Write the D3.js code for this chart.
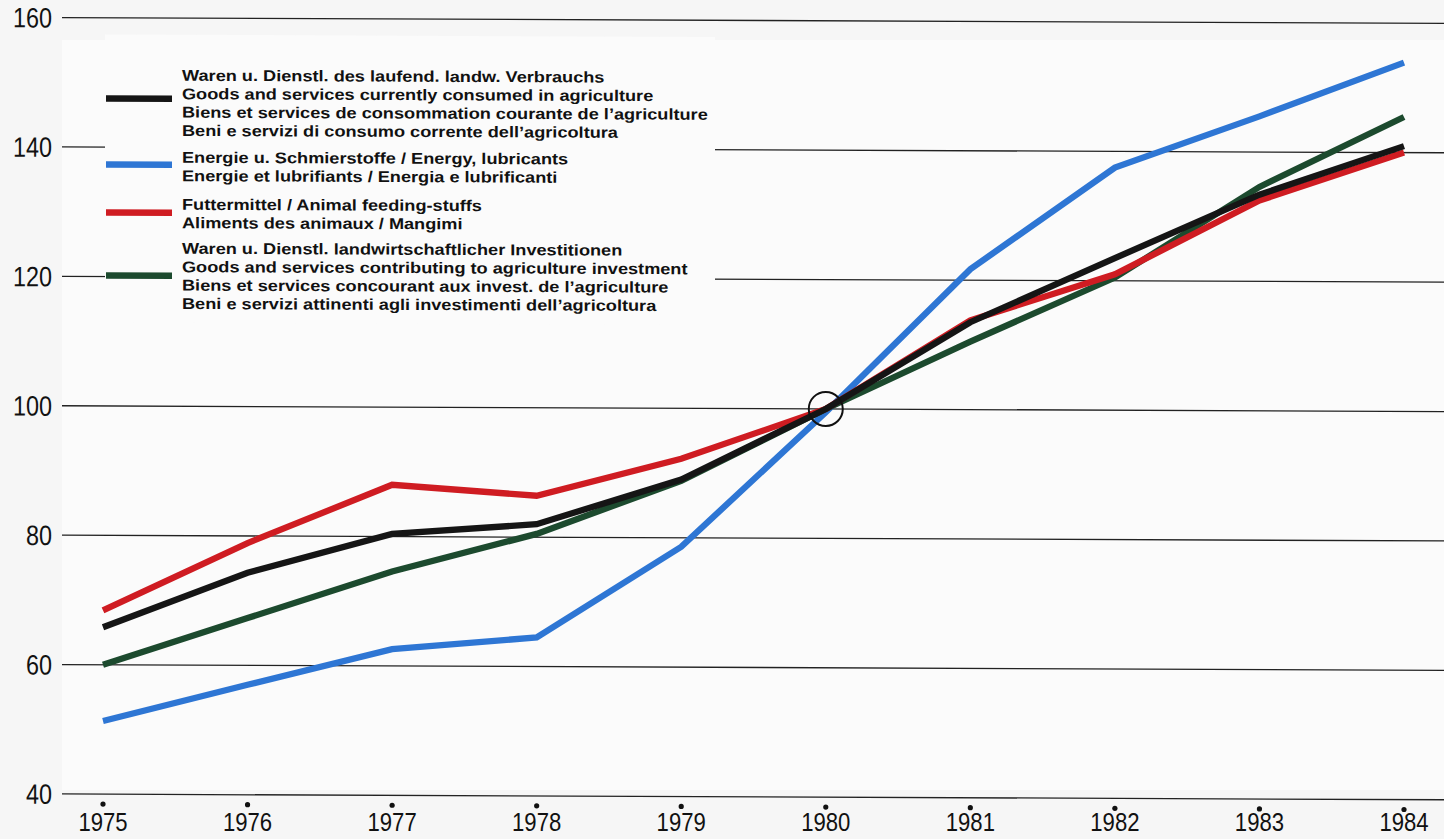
<!DOCTYPE html>
<html>
<head>
<meta charset="utf-8">
<script src="https://cdn.jsdelivr.net/npm/d3@7/dist/d3.min.js"></script>
<style>
  html, body { margin: 0; padding: 0; background: #f6f6f6; }
  svg { display: block; }
</style>
</head>
<body>
<svg id="chart" width="1444" height="839"></svg>
<script>
// ---- data ----
const years = [1975, 1976, 1977, 1978, 1979, 1980, 1981, 1982, 1983, 1984];
const yTicks = [40, 60, 80, 100, 120, 140, 160];

const goodsConsumed = [65.8, 74.3, 80.4, 82.0, 89.0, 100, 113.5, 123.5, 133.4, 141.0];
const energy        = [51.3, 57.0, 62.6, 64.5, 78.6, 99.5, 121.7, 137.5, 145.5, 153.9];
const feed          = [68.4, 78.9, 88.0, 86.4, 92.2, 100, 113.8, 121.0, 132.5, 140.0];
const investment    = [60.0, 67.3, 74.6, 80.5, 88.8, 100, 110.5, 120.5, 134.6, 145.5];

const legendLabels = [
  ["Waren u. Dienstl. des laufend. landw. Verbrauchs",
   "Goods and services currently consumed in agriculture",
   "Biens et services de consommation courante de l\u2019agriculture",
   "Beni e servizi di consumo corrente dell\u2019agricoltura"],
  ["Energie u. Schmierstoffe / Energy, lubricants",
   "Energie et lubrifiants / Energia e lubrificanti"],
  ["Futtermittel / Animal feeding-stuffs",
   "Aliments des animaux / Mangimi"],
  ["Waren u. Dienstl. landwirtschaftlicher Investitionen",
   "Goods and services contributing to agriculture investment",
   "Biens et services concourant aux invest. de l\u2019agriculture",
   "Beni e servizi attinenti agli investimenti dell\u2019agricoltura"]
];

const colors = { goods: "#151515", energy: "#2e76d4", feed: "#cf1c22", invest: "#1c4a2e" };

// ---- drawing ----
const svg = d3.select("#chart");
const W = 1444, H = 839;
const FONT = "'Liberation Sans', Arial, Helvetica, sans-serif";

svg.append("rect").attr("width", W).attr("height", H).attr("fill", "#f6f6f6");
svg.append("rect").attr("x", 62).attr("y", 40).attr("width", W - 62).attr("height", 750).attr("fill", "#fbfbfb");

const x = d3.scaleLinear().domain([1975, 1984]).range([103, 1404]);
const y = d3.scaleLinear().domain([40, 160]).range([793.7, 17.3]);

// year labels (kept level so they stay inside the frame)
svg.append("g").selectAll("text").data(years).join("text")
  .attr("transform", d => `translate(${x(d)},830.5) scale(0.835,1)`)
  .attr("text-anchor", "middle")
  .attr("font-family", FONT)
  .attr("font-size", 26.5)
  .attr("fill", "#111")
  .text(d => d);

// slight scan tilt of the original
const g = svg.append("g").attr("transform", "matrix(1,0.0042,0,1,0,0)");

// gridlines
g.append("g").selectAll("line").data(yTicks).join("line")
  .attr("x1", 62).attr("x2", W)
  .attr("y1", d => y(d)).attr("y2", d => y(d))
  .attr("stroke", "#222").attr("stroke-width", 1.3);

// y labels (narrow Helvetica look)
g.append("g").selectAll("text").data(yTicks).join("text")
  .attr("transform", d => `translate(52,${y(d) + 10}) scale(0.835,1)`)
  .attr("text-anchor", "end")
  .attr("font-family", FONT)
  .attr("font-size", 28)
  .attr("fill", "#111")
  .text(d => d);

// x tick dots
g.append("g").selectAll("circle").data(years).join("circle")
  .attr("cx", d => x(d)).attr("cy", 803.6).attr("r", 2.6).attr("fill", "#111");

// legend background (covers gridlines)
g.append("rect").attr("x", 105).attr("y", 34).attr("width", 610).attr("height", 288).attr("fill", "#fbfbfb");

// series
const line = d3.line().x((d, i) => x(years[i])).y(d => y(d));
const series = [
  { key: "energy", values: energy },
  { key: "invest", values: investment },
  { key: "feed", values: feed },
  { key: "goods", values: goodsConsumed }
];
g.append("g").selectAll("path").data(series).join("path")
  .attr("d", d => line(d.values))
  .attr("fill", "none")
  .attr("stroke", d => colors[d.key])
  .attr("stroke-width", 6.3)
  .attr("stroke-linejoin", "miter")
  .attr("stroke-linecap", "butt");

// base circle at 1980 = 100
g.append("circle").attr("cx", x(1980)).attr("cy", y(100)).attr("r", 17)
  .attr("fill", "none").attr("stroke", "#111").attr("stroke-width", 2);

// legend
const legendItems = [
  { key: "goods", lines: legendLabels[0], top: 74, swatchY: 98 },
  { key: "energy", lines: legendLabels[1], top: 156, swatchY: 164 },
  { key: "feed", lines: legendLabels[2], top: 203, swatchY: 212 },
  { key: "invest", lines: legendLabels[3], top: 247, swatchY: 275 }
];
const lg = g.append("g");
const LFS = 15.6;
legendItems.forEach(it => {
  lg.append("line").attr("x1", 106).attr("x2", 172)
    .attr("y1", it.swatchY).attr("y2", it.swatchY)
    .attr("stroke", colors[it.key]).attr("stroke-width", 6.5);
  lg.append("g").selectAll("text").data(it.lines).join("text")
    .attr("class", "lt")
    .attr("data-y", (d, i) => it.top + 6 + i * 18.4)
    .attr("font-family", FONT)
    .attr("font-weight", "bold")
    .attr("font-size", LFS)
    .attr("fill", "#111")
    .text(d => d);
});
// fit legend width to the original (~526px for the longest line)
const ref = lg.selectAll("text.lt").filter(d => d === legendLabels[0][2]).node();
const sx = 526 / ref.getComputedTextLength();
lg.selectAll("text.lt").attr("transform", function () {
  return `translate(182,${this.getAttribute("data-y")}) scale(${sx},1)`;
});
</script>
</body>
</html>
